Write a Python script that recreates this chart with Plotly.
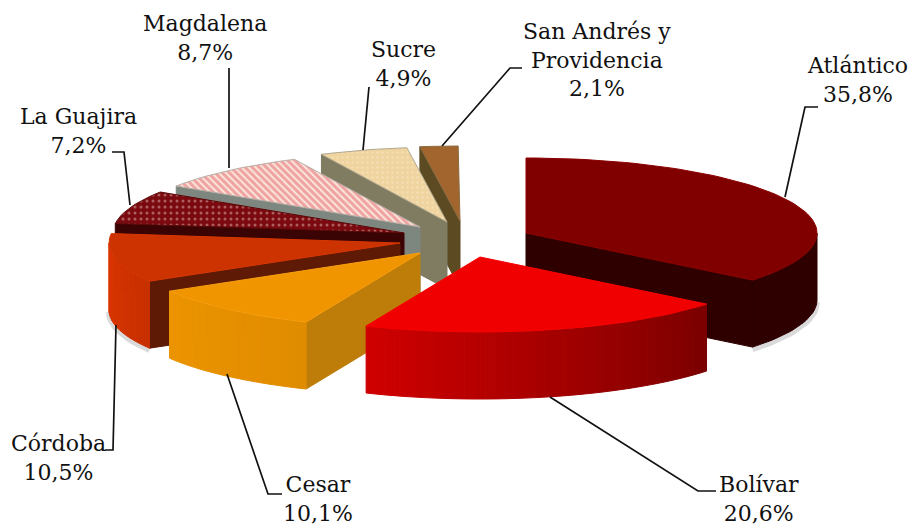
# Exploded 3D-looking pie chart, drawn as filled polygons on a pixel-sized plot
import math
import plotly.graph_objects as go

# Chart data
departments = ["Atlántico", "Bolívar", "Cesar", "Córdoba", "La Guajira", "Magdalena", "Sucre", "San Andrés y<br>Providencia"]
percents = [35.8, 20.6, 10.1, 10.5, 7.2, 8.7, 4.9, 2.1]

# Where the tip of each exploded slice sits on the page
tip_x = [526, 480, 420, 400, 404, 420, 447, 460]
tip_y = [233, 257, 253, 243, 233, 227, 222, 221]

# Size of the tilted pie
RX = 291
RY = 75
DEPTH = 67

# Slice colours
top_colors = ["#800000", "#F00000", "#F09400", "#CC3300", "#7A0A10", "#FBE6DC", "#F0D4A0", "#A2652E"]
edge_colors = ["#8C0000", "#F80000", "#F8A010", "#D83800", "#5A0808", "#B8B0A8", "#B0A890", "#8A6A40"]
cut_colors = ["#2E0000", "#800000", "#BE7C08", "#5E1A05", "#3A0404", "#7E8680", "#7F7C62", "#5C4A22"]
rim_first = ["#2E0000", "#7A0000", "#E08C00", "#C83000", "#3A0404", "#7E8680", "#7F7C62", "#5C4A22"]
rim_last = ["#2E0000", "#D00000", "#EC9400", "#DC3600", "#3A0404", "#7E8680", "#7F7C62", "#5C4A22"]
patterns = [None, None, None, None,
            dict(shape=".", size=6, solidity=0.2, fgcolor="#E0B4B0", bgcolor="#7A0A10"),
            dict(shape="\\", size=5, solidity=0.6, fgcolor="#E25F66", bgcolor="#FBE6DC"),
            dict(shape=".", size=5, solidity=0.2, fgcolor="#F8E8C8", bgcolor="#F0D4A0"),
            None]

# Draw order, back slices first
draw_order = [7, 6, 5, 4, 3, 2, 0, 1]

# Label centres and leader lines
label_x = [857, 759, 318, 58, 78, 205, 403, 597]
label_y = [80, 499, 499, 458, 131, 38, 64, 60]
leaders = [
    [(818, 107), (805, 107), (785, 197)],
    [(716, 491), (698, 491), (550, 397)],
    [(282, 494), (268, 494), (227, 374)],
    [(105, 450), (113, 450), (116, 325)],
    [(112, 152), (124, 152), (130, 205)],
    [(229, 68), (229, 168)],
    [(369, 87), (363, 150)],
    [(522, 68), (510, 68), (442, 146)],
]


def rim_point(cx, cy, angle):
    # Angle in degrees, clockwise from 12 o'clock
    rad = math.radians(angle)
    return cx + RX * math.sin(rad), cy - RY * math.cos(rad)


def arc(cx, cy, a0, a1):
    steps = max(2, int(abs(a1 - a0) / 2) + 1)
    pts = [rim_point(cx, cy, a0 + (a1 - a0) * k / steps) for k in range(steps + 1)]
    return pts


def mix(c0, c1, t):
    a = [int(c0[k:k + 2], 16) for k in (1, 3, 5)]
    b = [int(c1[k:k + 2], 16) for k in (1, 3, 5)]
    return "rgb(%d,%d,%d)" % tuple(round(a[k] + (b[k] - a[k]) * t) for k in range(3))


fig = go.Figure()


def add_poly(pts, color, line_color=None, pattern=None):
    xs = [p[0] for p in pts] + [pts[0][0]]
    ys = [p[1] for p in pts] + [pts[0][1]]
    trace = go.Scatter(x=xs, y=ys, mode="lines", fill="toself", fillcolor=color,
                       line=dict(color=line_color or color, width=1), hoverinfo="skip", showlegend=False)
    if pattern:
        trace.fillpattern = pattern
    fig.add_trace(trace)


# Work out the start and end angle of each slice from the percentages
starts = []
total = 0
for p in percents:
    starts.append(total * 3.6)
    total += p

# Soft grey shadow under the outer edge of the pie
for i in [0, 3]:
    a0 = max(starts[i], 90)
    a1 = min(starts[i] + percents[i] * 3.6, 270)
    pts = arc(tip_x[i], tip_y[i] + DEPTH + 2, a0, a1)
    fig.add_trace(go.Scatter(x=[p[0] for p in pts], y=[p[1] for p in pts], mode="lines",
                             line=dict(color="rgba(150,150,150,0.35)", width=6),
                             hoverinfo="skip", showlegend=False))

for i in draw_order:
    cx, cy = tip_x[i], tip_y[i]
    a0 = starts[i]
    a1 = a0 + percents[i] * 3.6

    # Cut faces of the wedge
    if a0 > 180:
        ex, ey = rim_point(cx, cy, a0)
        add_poly([(cx, cy), (ex, ey), (ex, ey + DEPTH), (cx, cy + DEPTH)], cut_colors[i])
    if a1 < 180:
        ex, ey = rim_point(cx, cy, a1)
        add_poly([(cx, cy), (ex, ey), (ex, ey + DEPTH), (cx, cy + DEPTH)], cut_colors[i])

    # Outer rim, only the front half can be seen. One piece when the colour does not change
    r0 = max(a0, 90)
    r1 = min(a1, 270)
    if r1 > r0:
        pieces = 1 if rim_first[i] == rim_last[i] else max(1, int((r1 - r0) / 2))
        for k in range(pieces):
            s0 = r0 + (r1 - r0) * k / pieces
            s1 = r0 + (r1 - r0) * (k + 1) / pieces
            upper = arc(cx, cy, s0, s1)
            lower = arc(cx, cy + DEPTH, s1, s0)
            add_poly(upper + lower, mix(rim_first[i], rim_last[i], (k + 0.5) / pieces))

    # Top face
    add_poly([(cx, cy)] + arc(cx, cy, a0, a1), top_colors[i], edge_colors[i], patterns[i])

# Leader lines
for line in leaders:
    fig.add_trace(go.Scatter(x=[p[0] for p in line], y=[p[1] for p in line], mode="lines",
                             line=dict(color="#111111", width=1.7), hoverinfo="skip", showlegend=False))

# Labels, decimal comma as in the original
for i in range(len(departments)):
    value = f"{percents[i]:.1f}%".replace(".", ",")
    fig.add_annotation(x=label_x[i], y=label_y[i], text=departments[i] + "<br>" + value,
                       showarrow=False, xanchor="center", yanchor="middle", align="center",
                       font=dict(family="DejaVu Serif", size=22, color="#111111"))

fig.update_layout(
    width=914,
    height=527,
    margin=dict(l=0, r=0, t=0, b=0),
    paper_bgcolor="white",
    plot_bgcolor="white",
    showlegend=False,
    xaxis=dict(range=[0, 914], visible=False, fixedrange=True),
    yaxis=dict(range=[527, 0], visible=False, fixedrange=True),
)

fig.write_html("out.html", post_script="document.body.style.margin='0';", config=dict(displayModeBar=False))
